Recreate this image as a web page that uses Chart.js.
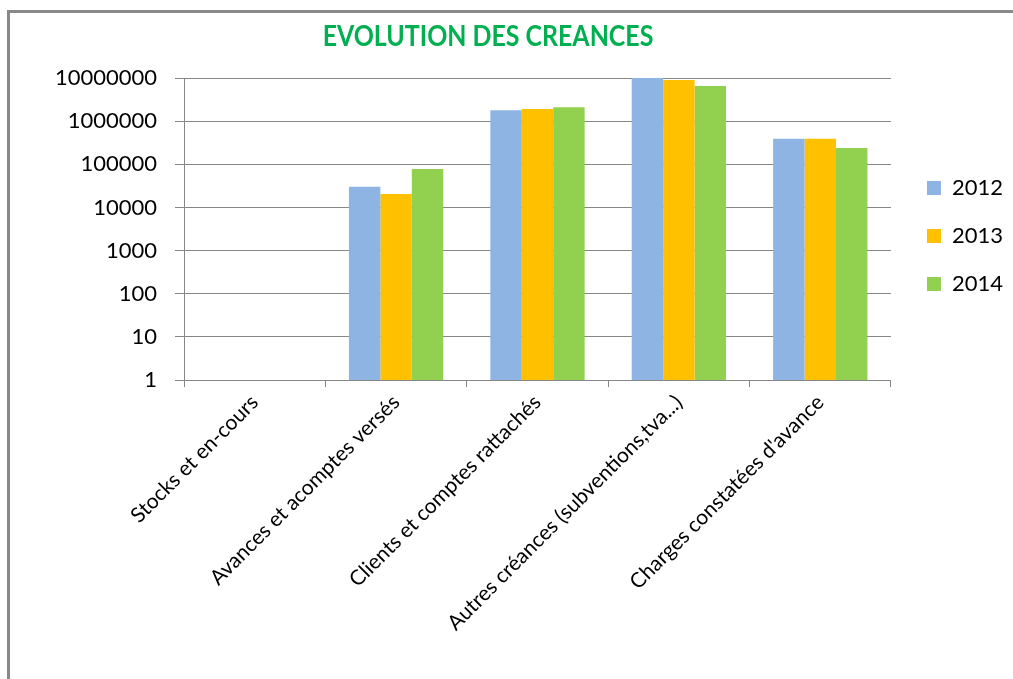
<!DOCTYPE html>
<html>
<head>
<meta charset="utf-8">
<script src="https://cdn.jsdelivr.net/npm/chart.js@4.4.1/dist/chart.umd.min.js"></script>
<style>
  html, body { margin: 0; padding: 0; background: #ffffff; overflow: hidden; width: 1013px; height: 679px; }
  #frame { position: absolute; left: 7px; top: 10px; width: 1100px; height: 800px;
           border-top: 3px solid #898989; border-left: 3px solid #898989; }
  #wrap { position: absolute; left: 10px; top: 13px; width: 1003px; height: 666px; }
</style>
</head>
<body>
<div id="frame"></div>
<div id="wrap"><canvas id="c" width="1003" height="666"></canvas></div>
<script>
const TITLE = 'EVOLUTION DES CREANCES';
const CATEGORIES = [
  'Stocks et en-cours',
  'Avances et acomptes versés',
  'Clients et comptes rattachés',
  'Autres créances (subventions,tva...)',
  "Charges constatées d'avance"
];
const SERIES_NAMES = ['2012', '2013', '2014'];
const V2012 = [null, 30000, 1800000, 10000000, 390000];
const V2013 = [null, 20500, 1900000, 9000000, 390000];
const V2014 = [null, 78000, 2100000, 6500000, 240000];
const Y_TICKS = [1, 10, 100, 1000, 10000, 100000, 1000000, 10000000];
const COLORS = ['#8EB4E3', '#FFC000', '#92D050'];

const titlePlugin = {
  id: 'excelTitle',
  afterDraw(chart) {
    const ctx = chart.ctx;
    ctx.save();
    ctx.fillStyle = '#00B050';
    ctx.font = 'bold 28px Lato';
    ctx.textAlign = 'center';
    ctx.textBaseline = 'alphabetic';
    ctx.translate(478, 33);
    ctx.scale(0.89, 1);
    ctx.fillText(TITLE, 0, 0);
    ctx.restore();
  }
};

const gridColor = '#878787';

new Chart(document.getElementById('c'), {
  type: 'bar',
  data: {
    labels: CATEGORIES,
    datasets: [V2012, V2013, V2014].map((d, i) => ({
      label: SERIES_NAMES[i],
      data: d,
      backgroundColor: COLORS[i],
      borderWidth: 0,
      categoryPercentage: 0.667,
      barPercentage: 1.0
    }))
  },
  options: {
    responsive: false,
    animation: false,
    layout: { padding: { top: 65, right: 0, bottom: 0, left: 0 } },
    plugins: {
      title: { display: false },
      tooltip: { enabled: false },
      legend: {
        position: 'right',
        fullSize: false,
        align: 'center',
        title: { display: true, text: '', padding: 0, font: { size: 14, lineHeight: 1 } },
        labels: {
          boxWidth: 14,
          boxHeight: 14,
          padding: 26,
          color: '#000000',
          font: { family: 'Lato', size: 22 }
        }
      }
    },
    scales: {
      x: {
        offset: true,
        grid: { display: true, drawOnChartArea: false, drawTicks: true, tickLength: 7, offset: true, color: gridColor, lineWidth: 1 },
        border: { display: true, color: gridColor, width: 1 },
        ticks: {
          minRotation: 45, maxRotation: 45, padding: 3, autoSkip: false,
          color: '#000000', font: { family: 'Lato', size: 21 }
        },
        afterFit(s) { s.height = 299; }
      },
      y: {
        type: 'logarithmic',
        position: 'left',
        min: 1,
        max: 10000000,
        afterBuildTicks(s) { s.ticks = Y_TICKS.map(v => ({ value: v })); },
        grid: { color: gridColor, lineWidth: 1, tickLength: 9, drawTicks: true },
        border: { display: true, color: gridColor, width: 1 },
        ticks: {
          padding: 18,
          color: '#000000',
          font: { family: 'Lato', size: 22 },
          callback: (v) => String(v)
        },
        afterFit(s) { s.width = 174; }
      },
      spacer: {
        type: 'linear',
        position: 'right',
        display: true,
        grid: { display: false, drawTicks: false },
        border: { display: false },
        ticks: { display: false },
        afterFit(s) { s.width = 10; }
      }
    }
  },
  plugins: [titlePlugin]
});
</script>
</body>
</html>
